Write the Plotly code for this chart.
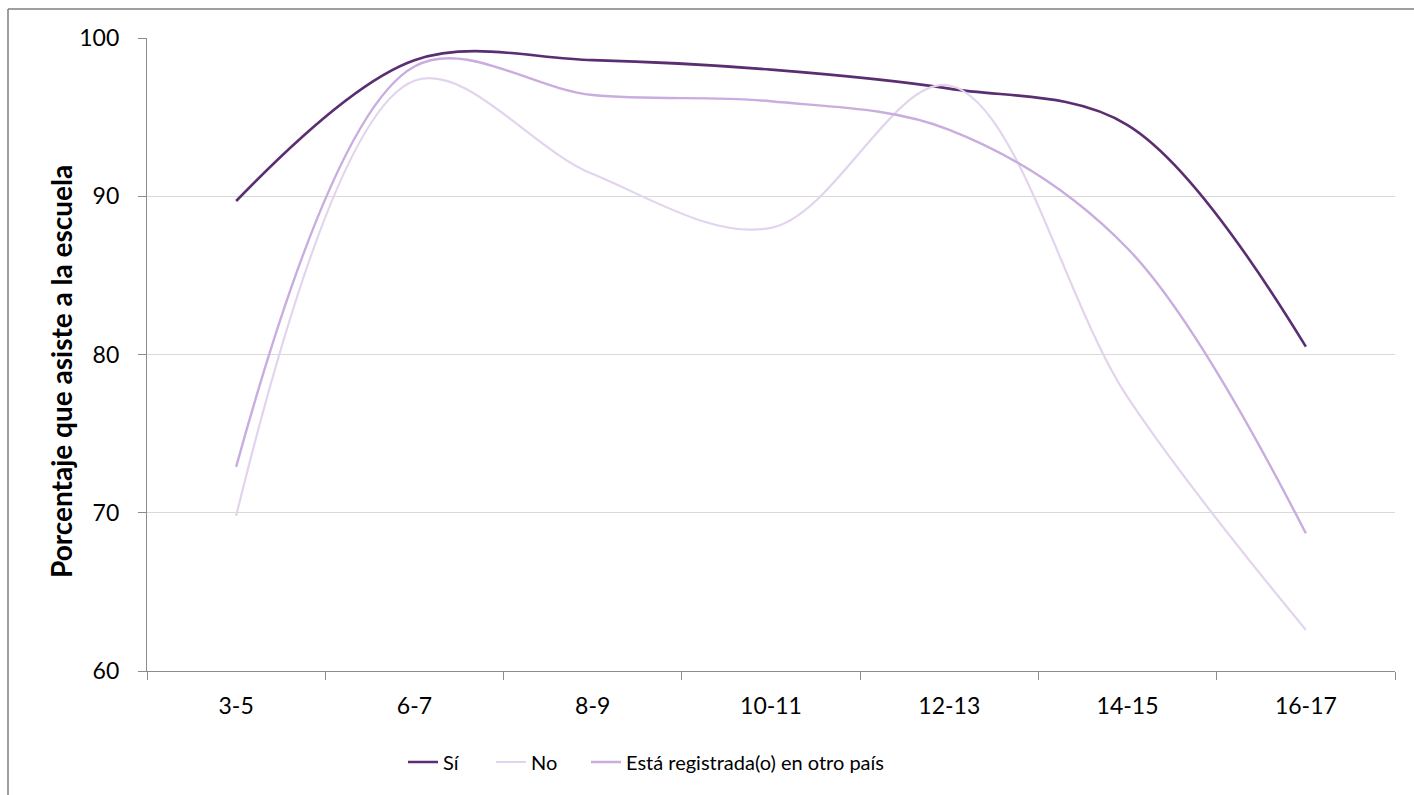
import plotly.graph_objects as go

categories = ["3-5", "6-7", "8-9", "10-11", "12-13", "14-15", "16-17"]
si_values = [89.7, 98.6, 98.6, 98.0, 96.8, 94.5, 80.5]
no_values = [69.8, 97.3, 91.4, 88.0, 97.0, 77.3, 62.6]
otro_values = [72.9, 98.2, 96.4, 96.0, 94.2, 86.7, 68.7]
series_names = ["Sí", "No", "Está registrada(o) en otro país"]
y_ticks = [60, 70, 80, 90, 100]
y_title = "Porcentaje que asiste a la escuela"

colors = ["#5B2E72", "#E3D4EE", "#C8ADDE"]
widths = [2.6, 2.2, 2.4]
legend_ids = ["legend", "legend2", "legend3"]
legend_left = [403, 491, 586]

FONT = "Lato, Carlito, Calibri, sans-serif"

W, H = 1414, 795
L, R, T, B = 147, 19, 38, 124
pw, ph = W - L - R, H - T - B

def px(x):
    return (x - L) / pw

def py(y):
    return (H - B - y) / ph

fig = go.Figure()
for name, vals, c, w, lg in zip(series_names, [si_values, no_values, otro_values], colors, widths, legend_ids):
    fig.add_trace(go.Scatter(
        x=categories, y=vals, name=name, mode="lines", legend=lg,
        line=dict(color=c, width=w, shape="spline", smoothing=1.0),
    ))

legend_common = dict(orientation="h", xanchor="left", y=py(762), yanchor="middle",
                     font=dict(size=20, family=FONT), bgcolor="rgba(0,0,0,0)")

fig.update_layout(
    width=W, height=H,
    margin=dict(l=L, r=R, t=T, b=B),
    paper_bgcolor="white", plot_bgcolor="white",
    font=dict(family=FONT, size=20, color="#000000"),
    showlegend=True,
    legend=dict(x=px(legend_left[0]), **legend_common),
    legend2=dict(x=px(legend_left[1]), **legend_common),
    legend3=dict(x=px(legend_left[2]), **legend_common),
    shapes=[
        dict(type="line", xref="paper", yref="paper", x0=px(8), x1=px(8), y0=py(9), y1=py(800),
             line=dict(color="#7F7F7F", width=1.5)),
        dict(type="line", xref="paper", yref="paper", x0=px(8), x1=px(1420), y0=py(9), y1=py(9),
             line=dict(color="#7F7F7F", width=1.5)),
    ],
    annotations=[
        dict(text="<b>" + y_title + "</b>", xref="paper", yref="paper",
             x=px(61), y=py(372), xanchor="center", yanchor="middle",
             textangle=-90, showarrow=False, font=dict(size=28, family=FONT, color="#000000")),
    ],
)

fig.update_xaxes(
    type="category", range=[-0.5, 6.5],
    showline=True, linecolor="#8C8C8C", linewidth=1.2,
    ticks="outside", ticklen=8, tickcolor="#8C8C8C", tickwidth=1.2,
    tickson="boundaries", showgrid=False, zeroline=False,
    tickfont=dict(size=23, family=FONT), ticklabelstandoff=14,
)
fig.update_yaxes(
    range=[60, 100], tickvals=y_ticks, ticktext=[str(v) for v in y_ticks],
    showline=True, linecolor="#8C8C8C", linewidth=1.2,
    ticks="outside", ticklen=8, tickcolor="#8C8C8C", tickwidth=1.2,
    showgrid=True, gridcolor="#D9D9D9", gridwidth=1, zeroline=False,
    tickfont=dict(size=23, family=FONT), ticklabelstandoff=14,
)

fig.write_html("out.html")
